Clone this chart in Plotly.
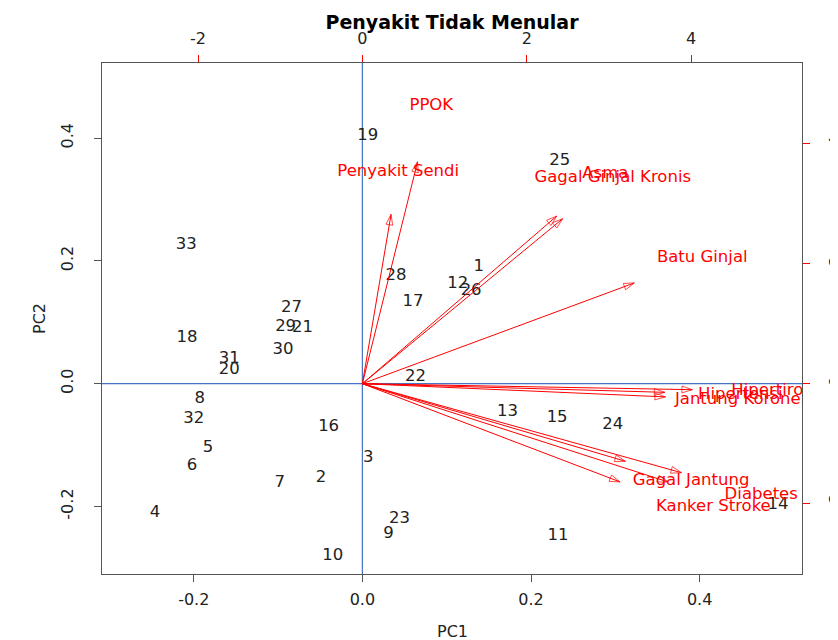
import plotly.graph_objects as go

# ---- data ----
obs_labels = [str(i) for i in range(1, 34)]
pc1 = [0.138, -0.049, 0.007, -0.246, -0.183, -0.202, -0.098, -0.193, 0.031, -0.035,
       0.232, 0.113, 0.172, 0.493, 0.231, -0.040, 0.060, -0.208, 0.0065, -0.158,
       -0.071, 0.063, 0.044, 0.297, 0.234, 0.129, -0.084, 0.040, -0.091, -0.094,
       -0.158, -0.200, -0.209]
pc2 = [0.190, -0.154, -0.121, -0.211, -0.105, -0.134, -0.162, -0.025, -0.244, -0.280,
       -0.248, 0.163, -0.046, -0.198, -0.056, -0.071, 0.134, 0.074, 0.404, 0.022,
       0.091, 0.011, -0.220, -0.067, 0.363, 0.151, 0.124, 0.176, 0.093, 0.055,
       0.040, -0.057, 0.226]

var_labels = ["PPOK", "Penyakit Sendi", "Asma", "Gagal Ginjal Kronis", "Batu Ginjal",
              "Hipertiroid", "Hipertensi", "Jantung Koroner", "Gagal Jantung",
              "Diabetes", "Kanker", "Stroke"]
load1 = [0.839, 0.436, 2.956, 3.047, 4.136, 5.02, 4.60, 4.61, 4.00, 4.854, 3.92, 4.65]
load2 = [4.62, 3.525, 3.49, 3.435, 2.097, -0.125, -0.18, -0.275, -1.615, -1.853, -2.045, -2.045]

bottom_ticks = [-0.2, 0.0, 0.2, 0.4]
bottom_ticktext = ["-0.2", "0.0", "0.2", "0.4"]
left_ticks = [-0.2, 0.0, 0.2, 0.4]
left_ticktext = ["-0.2", "0.0", "0.2", "0.4"]
top_ticks = [-2, 0, 2, 4]
top_ticktext = ["-2", "0", "2", "4"]
right_ticks = [-2, 0, 2, 4]
right_ticktext = ["-2", "0", "2", "4"]

arrow_frac = 0.8  # biplot draws arrows to 0.8 of the loading position

FONT = "DejaVu Sans"
RED = "#FF0000"
BLUE = "#4472C4"
FRAME = "#555555"
TXT = "#222222"

fig = go.Figure()

# observation labels
fig.add_trace(go.Scatter(
    x=pc1, y=pc2, mode="text", text=obs_labels,
    textposition="middle center",
    textfont=dict(family=FONT, size=16.5, color=TXT),
    xaxis="x", yaxis="y", hoverinfo="skip", showlegend=False))

# arrows
for lab, a, b in zip(var_labels, load1, load2):
    fig.add_trace(go.Scatter(
        x=[0, a * arrow_frac], y=[0, b * arrow_frac], mode="lines+markers",
        line=dict(color=RED, width=1, backoff=0),
        marker=dict(symbol="arrow-open", size=[0, 11], angleref="previous",
                    color=RED, line=dict(color=RED, width=1)),
        xaxis="x2", yaxis="y2", hoverinfo="skip", showlegend=False))

# variable labels
fig.add_trace(go.Scatter(
    x=load1, y=load2, mode="text", text=var_labels,
    textposition="middle center",
    textfont=dict(family=FONT, size=16.5, color=RED),
    xaxis="x2", yaxis="y2", hoverinfo="skip", showlegend=False))

xr = [-0.3088, 0.5214]
yr = [-0.3101, 0.5225]
x2r = [-3.169, 5.350]
y2r = [-3.170, 5.342]

axis_common = dict(showgrid=False, zeroline=False, showline=True, linecolor=FRAME,
                   linewidth=1.3, ticks="outside", ticklen=7, automargin=False,
                   tickfont=dict(family=FONT, size=16, color=TXT))

fig.update_layout(
    width=838, height=640,
    margin=dict(l=94, r=44, t=55, b=74),
    paper_bgcolor="white", plot_bgcolor="white",
    xaxis=dict(range=xr, tickvals=bottom_ticks, ticktext=bottom_ticktext,
               tickcolor=FRAME, side="bottom", ticklabelstandoff=4, **axis_common),
    yaxis=dict(range=yr, tickvals=left_ticks, ticktext=left_ticktext,
               tickcolor=FRAME, tickangle=-90, side="left", ticklabelstandoff=14, **axis_common),
    xaxis2=dict(range=x2r, tickvals=top_ticks, ticktext=top_ticktext, overlaying="x",
                side="top", tickcolor=RED, anchor="y", ticklabelstandoff=4, **axis_common),
    yaxis2=dict(range=y2r, tickvals=right_ticks, ticktext=right_ticktext, overlaying="y",
                side="right", tickcolor=RED, anchor="x", tickangle=-90,
                ticklabelstandoff=12, **axis_common),
    shapes=[
        dict(type="line", xref="paper", x0=0, x1=1, yref="y", y0=0, y1=0,
             line=dict(color=BLUE, width=1.2), layer="below"),
        dict(type="line", xref="x", x0=0, x1=0, yref="paper", y0=0, y1=1,
             line=dict(color=BLUE, width=1.2), layer="below"),
    ],
    title=dict(text="<b>Penyakit Tidak Menular</b>", x=444 / 838, xref="container",
               xanchor="center", y=1 - 14 / 640, yref="container", yanchor="middle",
               font=dict(family=FONT, size=19, color="black")),
    annotations=[
        dict(text="PC1", xref="paper", yref="paper", x=0.5, y=-0.1135,
             showarrow=False, font=dict(family=FONT, size=16, color=TXT),
             xanchor="center", yanchor="middle"),
        dict(text="PC2", xref="paper", yref="paper", x=-0.0886, y=0.501,
             showarrow=False, textangle=-90, font=dict(family=FONT, size=16, color=TXT),
             xanchor="center", yanchor="middle"),
    ],
)

fig.write_html("out.html")
